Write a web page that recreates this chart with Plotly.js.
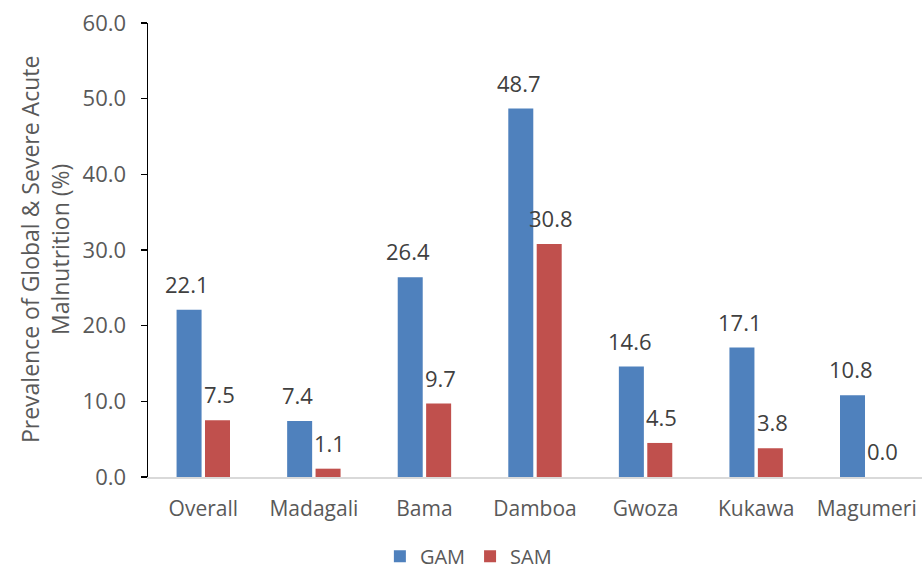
<!DOCTYPE html>
<html>
<head>
<meta charset="utf-8">
<script src="https://cdn.plot.ly/plotly-3.0.1.min.js"></script>
<style>
  html, body { margin: 0; padding: 0; background: #fff; }
  #chart { width: 922px; height: 571px; }
</style>
</head>
<body>
<div id="chart"></div>
<script>
// Prevalence of acute malnutrition by LGA
const categories = ["Overall", "Madagali", "Bama", "Damboa", "Gwoza", "Kukawa", "Magumeri"];
const gamValues = [22.1, 7.4, 26.4, 48.7, 14.6, 17.1, 10.8];
const samValues = [7.5, 1.1, 9.7, 30.8, 4.5, 3.8, 0.0];
const yTickValues = [0, 10, 20, 30, 40, 50, 60];

const FONT = "Open Sans, Noto Sans, sans-serif";
const BLUE = "#4F81BD";
const RED = "#C0504D";

const traces = [
  { type: "bar", name: "GAM", x: categories, y: gamValues, marker: { color: BLUE }, hoverinfo: "skip" },
  { type: "bar", name: "SAM", x: categories, y: samValues, marker: { color: RED }, hoverinfo: "skip" }
];

// value labels above each bar, shifted to the bar's slot in the group
const annotations = [];
[[gamValues, -16], [samValues, 16]].forEach(([vals, dx]) => {
  vals.forEach((v, i) => {
    annotations.push({
      x: categories[i], y: v, xref: "x", yref: "y",
      text: v.toFixed(1), showarrow: false,
      xshift: dx, yshift: 9, yanchor: "bottom",
      font: { family: FONT, size: 22, color: "#404040" }
    });
  });
});

// y-axis title drawn in two lines
annotations.push({
  xref: "paper", yref: "paper", x: -0.133, y: 0.5,
  xanchor: "center", yanchor: "middle",
  text: "Prevalence of Global & Severe Acute<br>Malnutrition (%)",
  textangle: -90, showarrow: false,
  font: { family: FONT, size: 23, color: "#595959" }
});

const layout = {
  width: 922, height: 571,
  margin: { l: 148, r: 0, t: 23, b: 94 },
  paper_bgcolor: "#fff", plot_bgcolor: "#fff",
  barmode: "group", bargap: 0.486, bargroupgap: 0.12,
  showlegend: true,
  legend: {
    orientation: "h", xref: "container", yref: "container",
    x: 0.508, xanchor: "center", y: 0.026, yanchor: "middle",
    font: { family: FONT, size: 20, color: "#595959" },
    itemwidth: 30, traceorder: "normal"
  },
  xaxis: {
    type: "category",
    showline: true, linecolor: "#d9d9d9", linewidth: 2,
    ticks: "", showgrid: false, zeroline: false,
    ticklabelstandoff: 12,
    tickfont: { family: FONT, size: 21, color: "#595959" }
  },
  yaxis: {
    range: [0, 60], tickvals: yTickValues, tickformat: ".1f",
    showline: true, linecolor: "#000", linewidth: 1.5,
    ticks: "outside", ticklen: 6, tickcolor: "#000", tickwidth: 1.5,
    showgrid: false, zeroline: false,
    ticklabelstandoff: 10,
    tickfont: { family: FONT, size: 22, color: "#595959" }
  },
  annotations: annotations
};

Plotly.newPlot("chart", traces, layout, { displayModeBar: false, staticPlot: true });
</script>
</body>
</html>
